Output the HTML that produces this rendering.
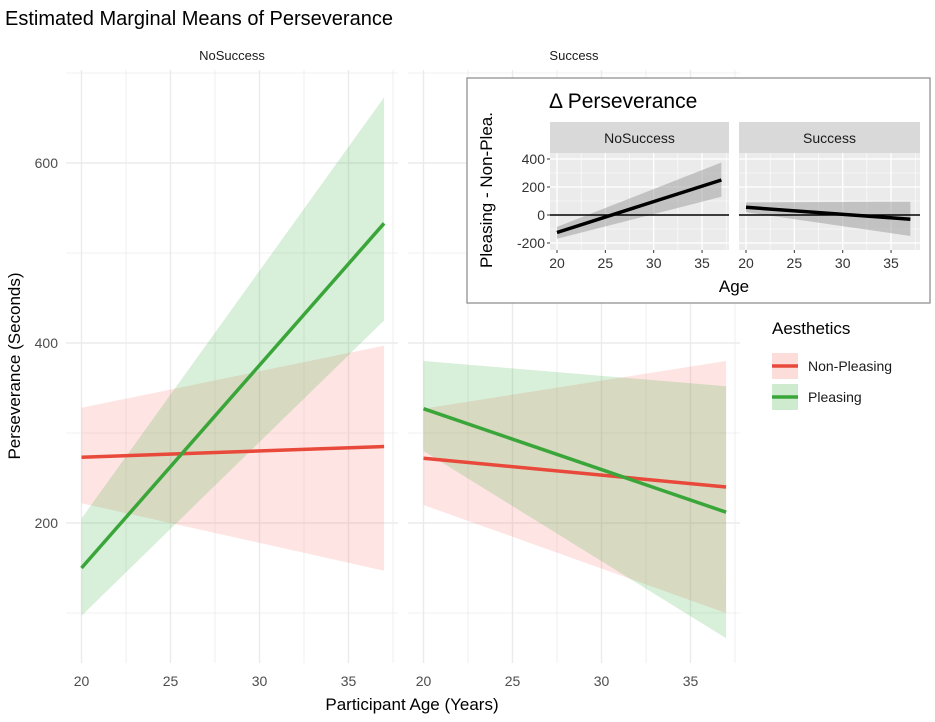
<!DOCTYPE html>
<html><head><meta charset="utf-8"><style>
body{margin:0;background:#fff;font-family:"Liberation Sans",Arial,sans-serif}
svg text{font-family:"Liberation Sans",Arial,sans-serif}
</style></head><body>
<svg id="c" width="935" height="717" xmlns="http://www.w3.org/2000/svg"></svg>
<script>
// main data
const facets=["NoSuccess","Success"];
const ageEnds=[20,37];
const xTicks=[20,25,30,35];
const yTicks=[200,400,600];
const npMean=[[273,285],[272,240]];
const npLo=[[222,147],[220,100]];
const npHi=[[328,397],[327,380]];
const plMean=[[150,533],[327,212]];
const plLo=[[97,425],[280,72]];
const plHi=[[205,673],[380,352]];
// inset data
const dMean=[[-125,250],[55,-30]];
const dLo=[[-170,130],[20,-150]];
const dHi=[[-85,375],[90,95]];
const insetYTicks=[-200,0,200,400];

const S=document.getElementById('c');const NS='http://www.w3.org/2000/svg';
function mk(t,a,p){const e=document.createElementNS(NS,t);for(const k in a)e.setAttribute(k,a[k]);(p||S).appendChild(e);return e;}
function tx(x,y,s,o){const e=mk('text',Object.assign({x:x,y:y},o||{}));e.textContent=s;return e;}

let t=tx(5,25,'Estimated Marginal Means of Perseverance',{'font-size':20,fill:'#000'});


const panelL=[66,408],panelW=332,pTop=70,pBot=663;
function X(f,v){return panelL[f]+15.5+(v-20)*17.8;}
function Y(v){return 523-(v-200)*0.9;}
facets.forEach((fn,f)=>{
  const g=mk('g',{});
  
  
  for(let v=100;v<=700;v+=100){mk('line',{x1:panelL[f],x2:panelL[f]+panelW,y1:Y(v),y2:Y(v),stroke:'#ebebeb','stroke-width':v%200==0?1.4:0.8},g);}
  for(let v=17.5;v<=37.5;v+=2.5){const xx=X(f,v);if(xx<panelL[f]||xx>panelL[f]+panelW)continue;mk('line',{x1:xx,x2:xx,y1:pTop,y2:pBot,stroke:'#ebebeb','stroke-width':v%5==0?1.4:0.8},g);}
  let s=tx(panelL[f]+panelW/2,60,fn,{'font-size':13,'text-anchor':'middle',fill:'#1a1a1a'},g);
  
  xTicks.forEach(v=>{let l=tx(X(f,v),686,v,{'font-size':14,'text-anchor':'middle',fill:'#4d4d4d'},g);});
  const band=(lo,hi,col,name)=>{const p=mk('polygon',{points:`${X(f,ageEnds[0])},${Y(lo[f][0])} ${X(f,ageEnds[1])},${Y(lo[f][1])} ${X(f,ageEnds[1])},${Y(hi[f][1])} ${X(f,ageEnds[0])},${Y(hi[f][0])}`,fill:col,'fill-opacity':0.2},g);};
  band(npLo,npHi,'#F8766D','ci-non-pleasing');
  band(plLo,plHi,'#3cb043','ci-pleasing');
  const ln=(m,col,name)=>{const l=mk('line',{x1:X(f,ageEnds[0]),y1:Y(m[f][0]),x2:X(f,ageEnds[1]),y2:Y(m[f][1]),stroke:col,'stroke-width':3.5},g);};
  ln(npMean,'#e8493a','line-non-pleasing');
  ln(plMean,'#3aa63a','line-pleasing');
});
yTicks.forEach(v=>{let l=tx(58,Y(v)+5,v,{'font-size':14,'text-anchor':'end',fill:'#4d4d4d'});});
t=tx(412,710,'Participant Age (Years)',{'font-size':17,'text-anchor':'middle'});
t=tx(0,0,'Perseverance (Seconds)',{'font-size':17,'text-anchor':'middle',transform:'translate(20,366) rotate(-90)'});

// legend
const lg=mk('g',{});
tx(772,334,'Aesthetics',{'font-size':17},lg);
[['Non-Pleasing','#F8766D','#e8493a',366],['Pleasing','#3cb043','#3aa63a',397]].forEach(([n,f,c,y])=>{
  const e=mk('g',{},lg);
  mk('rect',{x:772,y:y-13,width:26,height:26,fill:f,'fill-opacity':0.25},e);
  mk('line',{x1:772,x2:798,y1:y,y2:y,stroke:c,'stroke-width':3.5},e);
  tx(808,y+5,n,{'font-size':14,fill:'#1a1a1a'},e);
});

// inset
const ig=mk('g',{});
mk('rect',{x:467,y:78,width:463,height:225,fill:'#fff',stroke:'#888','stroke-width':1.2},ig);
t=tx(549,108,'Δ Perseverance',{'font-size':21},ig);
const iL=[550,739],iW=[179,181],iTop=153,iBot=250;
function IX(f,v){return iL[f]+7+(v-20)*9.67;}
function IY(v){return 215-v*0.14;}
facets.forEach((fn,f)=>{
  const g=mk('g',{},ig);
  mk('rect',{x:iL[f],y:122,width:iW[f],height:31,fill:'#d9d9d9'},g);
  tx(iL[f]+iW[f]/2,143,fn,{'font-size':14,'text-anchor':'middle',fill:'#1a1a1a'},g);
  mk('rect',{x:iL[f],y:iTop,width:iW[f],height:iBot-iTop,fill:'#ebebeb'},g);
  for(let v=-300;v<=500;v+=100){const yy=IY(v);if(yy<iTop||yy>iBot)continue;mk('line',{x1:iL[f],x2:iL[f]+iW[f],y1:yy,y2:yy,stroke:'#fff','stroke-width':v%200==0?1.3:0.6},g);}
  for(let v=17.5;v<=37.5;v+=2.5){const xx=IX(f,v);if(xx<iL[f]||xx>iL[f]+iW[f])continue;mk('line',{x1:xx,x2:xx,y1:iTop,y2:iBot,stroke:'#fff','stroke-width':v%5==0?1.3:0.6},g);}
  const p=mk('polygon',{points:`${IX(f,ageEnds[0])},${IY(dLo[f][0])} ${IX(f,ageEnds[1])},${IY(dLo[f][1])} ${IX(f,ageEnds[1])},${IY(dHi[f][1])} ${IX(f,ageEnds[0])},${IY(dHi[f][0])}`,fill:'#999','fill-opacity':0.5},g);
  mk('line',{x1:iL[f],x2:iL[f]+iW[f],y1:IY(0),y2:IY(0),stroke:'#000','stroke-width':1.5},g);
  const l=mk('line',{x1:IX(f,ageEnds[0]),y1:IY(dMean[f][0]),x2:IX(f,ageEnds[1]),y2:IY(dMean[f][1]),stroke:'#000','stroke-width':3.5},g);
  xTicks.forEach(v=>{mk('line',{x1:IX(f,v),x2:IX(f,v),y1:iBot,y2:iBot+3,stroke:'#333'},g);let q=tx(IX(f,v),268,v,{'font-size':14,'text-anchor':'middle',fill:'#333'},g);});
});
insetYTicks.forEach(v=>{mk('line',{x1:547,x2:550,y1:IY(v),y2:IY(v),stroke:'#333'},ig);let q=tx(545,IY(v)+5,v,{'font-size':14,'text-anchor':'end',fill:'#333'},ig);});
t=tx(734,292,'Age',{'font-size':17,'text-anchor':'middle'},ig);
t=tx(0,0,'Pleasing - Non-Plea.',{'font-size':17,'text-anchor':'middle',transform:'translate(492,190) rotate(-90)'},ig);
</script>
</body></html>
